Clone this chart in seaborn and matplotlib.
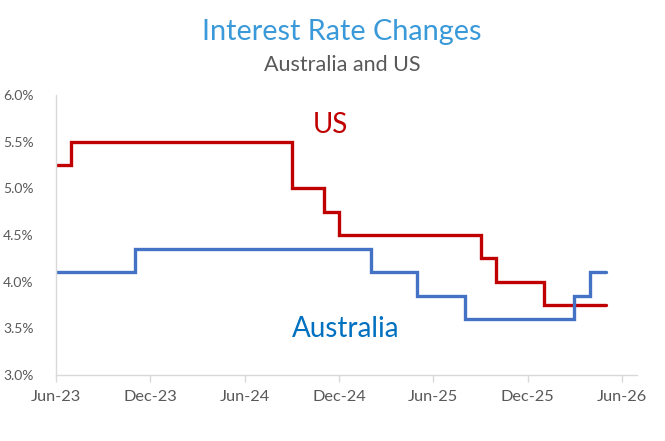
import matplotlib
matplotlib.use("Agg")
import matplotlib.pyplot as plt
import matplotlib.dates as mdates
from matplotlib.ticker import FuncFormatter, MultipleLocator
import seaborn as sns
import pandas as pd

# Step-change months and resulting rates (%)
us_dates = ["2023-06", "2023-07", "2024-09", "2024-11", "2024-12",
            "2025-09", "2025-10", "2026-01", "2026-05"]
us_rates = [5.25, 5.50, 5.00, 4.75, 4.50, 4.25, 4.00, 3.75, 3.75]

au_dates = ["2023-06", "2023-11", "2025-02", "2025-05", "2025-08",
            "2026-03", "2026-04", "2026-05"]
au_rates = [4.10, 4.35, 4.10, 3.85, 3.60, 3.85, 4.10, 4.10]

tick_dates = ["2023-06", "2023-12", "2024-06", "2024-12", "2025-06", "2025-12", "2026-06"]

us_df = pd.DataFrame({"date": pd.to_datetime(us_dates), "rate": us_rates})
au_df = pd.DataFrame({"date": pd.to_datetime(au_dates), "rate": au_rates})

sns.set_theme(style="white")
plt.rcParams["font.family"] = ["Lato", "DejaVu Sans"]

fig = plt.figure(figsize=(6.65, 4.41), dpi=100)
ax = fig.add_axes([56/665, 1-375/441, (637-56)/665, (375-95)/441])

sns.lineplot(data=us_df, x="date", y="rate", ax=ax, color="#c00000",
             linewidth=2.4, drawstyle="steps-post", solid_joinstyle="miter")
sns.lineplot(data=au_df, x="date", y="rate", ax=ax, color="#4472c4",
             linewidth=2.4, drawstyle="steps-post", solid_joinstyle="miter")

ax.set_ylim(3.0, 6.0)
ax.set_xlim(pd.Timestamp("2023-06-01"), pd.Timestamp("2026-07-01"))
ax.yaxis.set_major_locator(MultipleLocator(0.5))
ax.yaxis.set_major_formatter(FuncFormatter(lambda v, p: f"{v:.1f}%"))
ax.set_xticks(pd.to_datetime(tick_dates))
ax.xaxis.set_major_formatter(mdates.DateFormatter("%b-%y"))

ax.set_xlabel("")
ax.set_ylabel("")
for s in ["top", "right"]:
    ax.spines[s].set_visible(False)
for s in ["left", "bottom"]:
    ax.spines[s].set_color("#d9d9d9")
    ax.spines[s].set_linewidth(1.0)

ax.tick_params(axis="x", which="major", bottom=True, length=5, width=1,
               color="#d9d9d9", labelsize=11.8, labelcolor="#595959", pad=6)
ax.tick_params(axis="y", which="major", left=False, labelsize=10,
               labelcolor="#595959", pad=10)

fig.text(342/665, 1-32/441, "Interest Rate Changes", ha="center", va="center",
         fontsize=20.8, color="#3a9ad9")
fig.text(342/665, 1-65/441, "Australia and US", ha="center", va="center",
         fontsize=15.5, color="#595959")

fig.text(330/665, 1-125/441, "US", ha="center", va="center",
         fontsize=20, color="#c00000")
fig.text(346/665, 1-329/441, "Australia", ha="center", va="center",
         fontsize=20, color="#0070c0")

fig.savefig("out.png", dpi=100)
